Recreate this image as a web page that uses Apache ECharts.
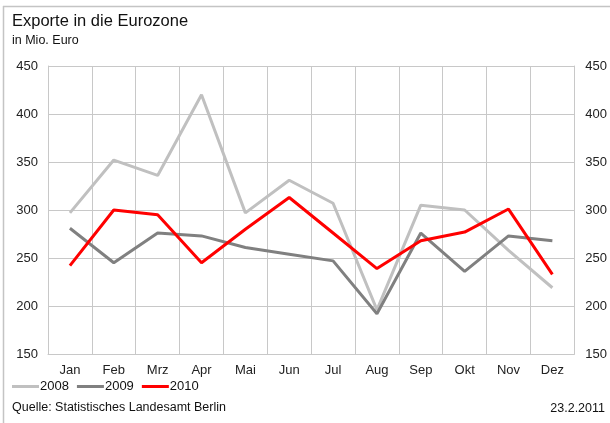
<!DOCTYPE html>
<html>
<head>
<meta charset="utf-8">
<script src="https://cdn.jsdelivr.net/npm/echarts@6/dist/echarts.min.js"></script>
<style>
  html, body { margin: 0; padding: 0; background: #fff; }
  #chart { width: 610px; height: 423px; }
</style>
</head>
<body>
<div id="chart"></div>
<script>
// Monthly exports to the euro area, million euro
const months = ['Jan', 'Feb', 'Mrz', 'Apr', 'Mai', 'Jun', 'Jul', 'Aug', 'Sep', 'Okt', 'Nov', 'Dez'];
const years = ['2008', '2009', '2010'];
const exports2008 = [297, 352, 336, 420, 297, 331, 307, 196, 305, 300, 258, 219];
const exports2009 = [281, 245, 276, 273, 261, 254, 247, 192, 276, 236, 273, 268];
const exports2010 = [242, 300, 295, 245, 280, 313, 276, 239, 268, 277, 301, 233];
const yTicks = [150, 200, 250, 300, 350, 400, 450];

const font = '"Liberation Sans", Arial, sans-serif';
const gridColor = '#c8c8c8';
const colors = ['#c0c0c0', '#808080', '#ff0000'];
const seriesData = [exports2008, exports2009, exports2010];

const yMin = yTicks[0];
const yMax = yTicks[yTicks.length - 1];
const yStep = yTicks[1] - yTicks[0];

function valueAxis(position) {
  return {
    type: 'value',
    position: position,
    min: yMin,
    max: yMax,
    interval: yStep,
    axisLine: { show: true, lineStyle: { color: gridColor, width: 1 } },
    axisTick: { show: false },
    axisLabel: {
      color: '#222',
      fontFamily: font,
      fontSize: 13,
      margin: position === 'left' ? 10 : 11,
      align: position === 'left' ? 'right' : 'left'
    },
    splitLine: { show: position === 'left', lineStyle: { color: gridColor, width: 1 } }
  };
}

const chart = echarts.init(document.getElementById('chart'), null, { renderer: 'canvas' });
chart.setOption({
  backgroundColor: '#fff',
  animation: false,
  grid: { left: 48, right: 34, top: 66, bottom: 69, containLabel: false },
  graphic: [
    { type: 'line', shape: { x1: 3, y1: 6.5, x2: 610, y2: 6.5 }, style: { stroke: '#c4c4c4', lineWidth: 1.5 } },
    { type: 'line', shape: { x1: 3.5, y1: 6, x2: 3.5, y2: 423 }, style: { stroke: '#c4c4c4', lineWidth: 1.5 } },
    { type: 'text', left: 12, top: 13, style: { text: 'Exporte in die Eurozone', fill: '#111', font: '16.5px ' + font } },
    { type: 'text', left: 12, top: 34, style: { text: 'in Mio. Euro', fill: '#111', font: '12.5px ' + font } },
    { type: 'text', left: 12, top: 401, style: { text: 'Quelle: Statistisches Landesamt Berlin', fill: '#111', font: '12.5px ' + font } },
    { type: 'text', right: 5, top: 402, style: { text: '23.2.2011', fill: '#111', font: '12.5px ' + font } }
  ],
  legend: {
    data: years,
    left: 12,
    top: 380,
    icon: 'rect',
    itemWidth: 27,
    itemHeight: 3,
    itemGap: 8,
    padding: 0,
    textStyle: { color: '#111', fontFamily: font, fontSize: 13, padding: [0, 0, 0, -4] }
  },
  xAxis: {
    type: 'category',
    data: months,
    boundaryGap: true,
    axisLine: { show: true, lineStyle: { color: gridColor, width: 1 } },
    axisTick: { show: false },
    axisLabel: { color: '#222', fontFamily: font, fontSize: 13, margin: 10 },
    splitLine: { show: true, lineStyle: { color: gridColor, width: 1 } }
  },
  yAxis: [valueAxis('left'), valueAxis('right')],
  series: years.map((y, i) => ({
    name: y,
    type: 'line',
    data: seriesData[i],
    yAxisIndex: 0,
    symbol: 'none',
    lineStyle: { color: colors[i], width: 3 },
    itemStyle: { color: colors[i] },
    z: 2 + i
  }))
});
</script>
</body>
</html>
